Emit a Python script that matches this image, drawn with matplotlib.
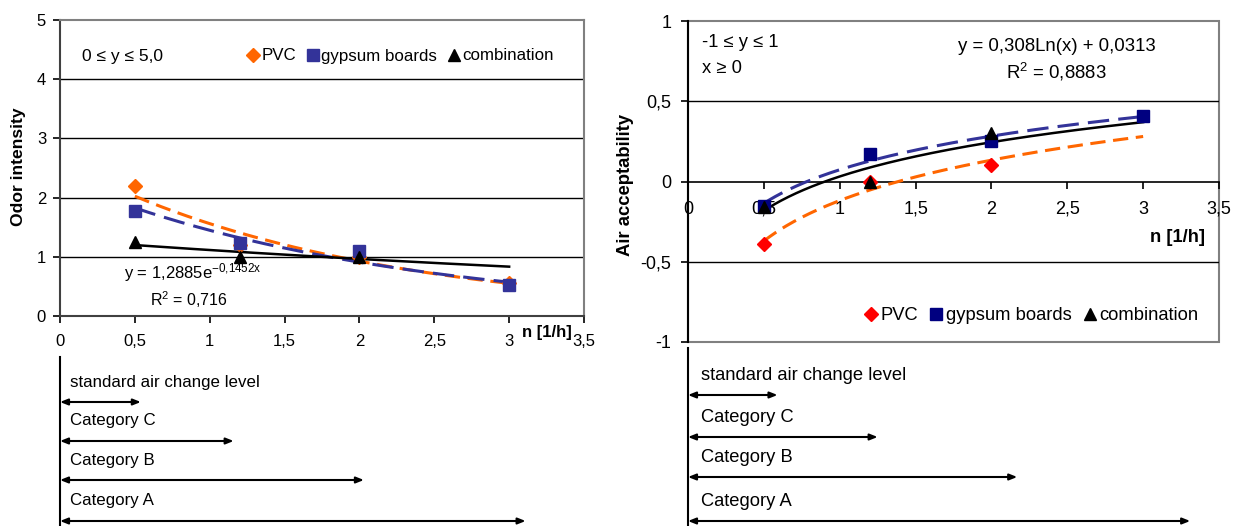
import numpy as np
import matplotlib
matplotlib.use("Agg")
import matplotlib.pyplot as plt
from matplotlib.ticker import FuncFormatter, MultipleLocator
from matplotlib.lines import Line2D
from matplotlib.patches import Rectangle

plt.rcParams["font.family"] = ["Liberation Sans", "DejaVu Sans"]
plt.rcParams["mathtext.fontset"] = "custom"
plt.rcParams["mathtext.rm"] = "Liberation Sans"
plt.rcParams["mathtext.it"] = "Liberation Sans"

# ---- data -------------------------------------------------------------
air_change = [0.5, 1.2, 2.0, 3.0]

odor_pvc = [2.2, 1.2, 1.0, 0.55]
odor_gypsum = [1.78, 1.23, 1.1, 0.52]
odor_comb_x = [0.5, 1.2, 2.0]
odor_comb = [1.25, 1.0, 1.0]
odor_comb_fit = (1.2885, -0.1452)          # y = a * exp(b x)

acc_pvc_x = [0.5, 1.2, 2.0]
acc_pvc = [-0.39, 0.0, 0.1]
acc_gypsum = [-0.15, 0.17, 0.25, 0.41]
acc_comb_x = [0.5, 1.2, 2.0]
acc_comb = [-0.16, 0.0, 0.30]
acc_comb_fit = (0.308, 0.0313)             # y = a * ln(x) + b

category_labels = ["standard air change level", "Category C", "Category B", "Category A"]
category_ends_left = [0.54, 1.16, 2.03, 3.11]
category_ends_right = [0.59, 1.25, 2.17, 3.31]

# ---- styling ----------------------------------------------------------
ORANGE = "#FF6600"
BLUE = "#333399"
NAVY = "#000080"
RED = "#FF0000"
GRAY = "#808080"

W, H = 1240, 526
fig = plt.figure(figsize=(W / 100, H / 100), dpi=100)


def fpos(x0, y0, x1, y1):
    """Pixel box (left, top, right, bottom) -> figure fraction rectangle."""
    return [x0 / W, 1 - y1 / H, (x1 - x0) / W, (y1 - y0) / H]


comma = FuncFormatter(lambda v, p: ("%g" % v).replace(".", ","))

fit_x = np.linspace(0.5, 3.0, 200)


def exp_fit(x, y):
    b, ln_a = np.polyfit(np.asarray(x), np.log(np.asarray(y)), 1)
    return np.exp(ln_a) * np.exp(b * fit_x)


def log_fit(x, y):
    a, b = np.polyfit(np.log(np.asarray(x)), np.asarray(y), 1)
    return a * np.log(fit_x) + b


# ---- left chart: odor intensity --------------------------------------
FS_L = 12
ax1 = fig.add_axes(fpos(60, 20, 584, 316))
ax1.set_xlim(0, 3.5)
ax1.set_ylim(0, 5)
ax1.xaxis.set_major_locator(MultipleLocator(0.5))
ax1.yaxis.set_major_locator(MultipleLocator(1))
ax1.xaxis.set_major_formatter(comma)
ax1.yaxis.set_major_formatter(comma)
for y in [1, 2, 3, 4]:
    ax1.axhline(y, color="black", lw=1, zorder=1)
ax1.spines["top"].set_color(GRAY)
ax1.spines["right"].set_color(GRAY)
ax1.spines["left"].set_color("#404040")
ax1.spines["bottom"].set_color("#404040")
for s in ax1.spines.values():
    s.set_linewidth(1.5)
ax1.tick_params(axis="both", direction="out", length=5, width=1.2, labelsize=FS_L)
ax1.tick_params(axis="x", pad=8)
ax1.tick_params(axis="y", pad=5)

ax1.plot(fit_x, exp_fit(air_change, odor_pvc), color=ORANGE, lw=2.2,
         dashes=(5, 2.5), zorder=3)
ax1.plot(fit_x, exp_fit(air_change, odor_gypsum), color=BLUE, lw=2.2,
         dashes=(7, 3), zorder=3)
ax1.plot(fit_x, odor_comb_fit[0] * np.exp(odor_comb_fit[1] * fit_x),
         color="black", lw=1.8, zorder=3)
ax1.plot(air_change, odor_pvc, "D", color=ORANGE, ms=7.5, ls="none", zorder=4)
ax1.plot(air_change, odor_gypsum, "s", color=BLUE, ms=8, ls="none", zorder=5)
ax1.plot(odor_comb_x, odor_comb, "^", color="black", ms=8.5, ls="none", zorder=6)

ax1.text(0.147, 4.39, "0 \u2264 y \u2264 5,0", fontsize=12.5, va="center", ha="left")
ax1.text(0.43, 0.74,
         r"y = 1,2885e$^{\mathregular{-0{,}1452x}}$", fontsize=12, va="center", ha="left")
ax1.text(0.6, 0.27, r"R$^{\mathregular{2}}$ = 0,716", fontsize=11.5, va="center", ha="left")

handles_l = [
    Line2D([], [], marker="D", color=ORANGE, ls="none", ms=7.5),
    Line2D([], [], marker="s", color=BLUE, ls="none", ms=8),
    Line2D([], [], marker="^", color="black", ls="none", ms=8.5),
]
fig.legend(handles_l, ["PVC", "gypsum boards", "combination"], ncol=3,
           loc="center", bbox_to_anchor=(400 / W, 1 - 56 / H), frameon=False,
           fontsize=12.2, handlelength=0.8, handletextpad=0.1, columnspacing=0.6)

fig.text(547 / W, 1 - 332 / H, "n [1/h]", fontsize=12, fontweight="bold",
         ha="center", va="center")
fig.text(19 / W, 1 - 167 / H, "Odor intensity", fontsize=12.6, fontweight="bold",
         rotation=90, ha="center", va="center")

# ---- right chart: air acceptability ----------------------------------
FS_R = 13.2
ax2 = fig.add_axes(fpos(688, 21, 1219, 342))
ax2.set_xlim(0, 3.5)
ax2.set_ylim(-1, 1)
ax2.xaxis.set_major_locator(MultipleLocator(0.5))
ax2.yaxis.set_major_locator(MultipleLocator(0.5))
ax2.xaxis.set_major_formatter(comma)
ax2.yaxis.set_major_formatter(comma)
for y in [0.5, -0.5]:
    ax2.axhline(y, color="black", lw=1, zorder=1)
ax2.add_patch(Rectangle((0, 0), 1, 1, transform=ax2.transAxes, fill=False,
                        edgecolor=GRAY, lw=1.5, zorder=0.5, clip_on=False))
ax2.spines["top"].set_visible(False)
ax2.spines["right"].set_visible(False)
ax2.spines["bottom"].set_position(("data", 0))
ax2.spines["bottom"].set_color("black")
ax2.spines["left"].set_color("black")
ax2.spines["bottom"].set_linewidth(1.2)
ax2.spines["left"].set_linewidth(1.5)
ax2.tick_params(axis="both", direction="out", length=5, width=1.2, labelsize=13)
ax2.tick_params(axis="x", pad=9)
ax2.tick_params(axis="y", pad=7)

ax2.plot(fit_x, log_fit(acc_pvc_x, acc_pvc), color=ORANGE, lw=2.2,
         dashes=(5, 2.5), zorder=3)
ax2.plot(fit_x, log_fit(air_change, acc_gypsum), color=BLUE, lw=2.2,
         dashes=(7, 3), zorder=3)
ax2.plot(fit_x, acc_comb_fit[0] * np.log(fit_x) + acc_comb_fit[1],
         color="black", lw=1.8, zorder=3)
ax2.plot(acc_pvc_x, acc_pvc, "D", color=RED, ms=7.5, ls="none", zorder=4)
ax2.plot(air_change, acc_gypsum, "s", color=NAVY, ms=8, ls="none", zorder=5)
ax2.plot(acc_comb_x, acc_comb, "^", color="black", ms=8.5, ls="none", zorder=6)

ax2.text(0.09, 0.863, "-1 \u2264 y \u2264 1", fontsize=FS_R, va="center", ha="left")
ax2.text(0.09, 0.707, "x \u2265 0", fontsize=FS_R, va="center", ha="left")
ax2.text(2.43, 0.844, "y = 0,308Ln(x) + 0,0313", fontsize=13.4, va="center", ha="center")
ax2.text(2.43, 0.68, r"R$^{\mathregular{2}}$ = 0,8883", fontsize=13.4, va="center", ha="center")

handles_r = [
    Line2D([], [], marker="D", color=RED, ls="none", ms=7.5),
    Line2D([], [], marker="s", color=NAVY, ls="none", ms=8),
    Line2D([], [], marker="^", color="black", ls="none", ms=8.5),
]
fig.legend(handles_r, ["PVC", "gypsum boards", "combination"], ncol=3,
           loc="center", bbox_to_anchor=(1031 / W, 1 - 316 / H), frameon=False,
           fontsize=FS_R, handlelength=0.8, handletextpad=0.1, columnspacing=0.6)

fig.text(1178 / W, 1 - 238 / H, "n [1/h]", fontsize=13.2, fontweight="bold",
         ha="center", va="center")
fig.text(626 / W, 1 - 185 / H, "Air acceptability", fontsize=13.3, fontweight="bold",
         rotation=90, ha="center", va="center")


# ---- category ranges below each chart --------------------------------
def category_panel(box, top_line, text_rows, arrow_rows, ends, text_x, fs):
    ax = fig.add_axes(fpos(*box))
    ax.set_xlim(0, 3.5)
    ax.set_ylim(box[3], box[1])          # y measured in rows from the top
    ax.axis("off")
    ax.plot([0, 0], [top_line, box[3]], color="black", lw=1.5, clip_on=False)
    for label, ty, ay, end in zip(category_labels, text_rows, arrow_rows, ends):
        ax.text(text_x, ty, label, fontsize=fs, ha="left", va="center")
        ax.annotate("", xy=(end, ay), xytext=(0, ay),
                    arrowprops=dict(arrowstyle="<|-|>,head_length=0.45,head_width=0.18",
                                    color="black", lw=1.5, shrinkA=0, shrinkB=0),
                    annotation_clip=False)
    return ax


category_panel((60, 350, 584, 526), 357, [382, 421, 461, 501],
               [402, 441, 480, 521], category_ends_left, 0.067, 12.2)
category_panel((688, 345, 1219, 526), 348, [376, 417, 457, 502],
               [395, 437, 477, 521], category_ends_right, 0.086, 13.2)

fig.savefig("out.png", dpi=100)
